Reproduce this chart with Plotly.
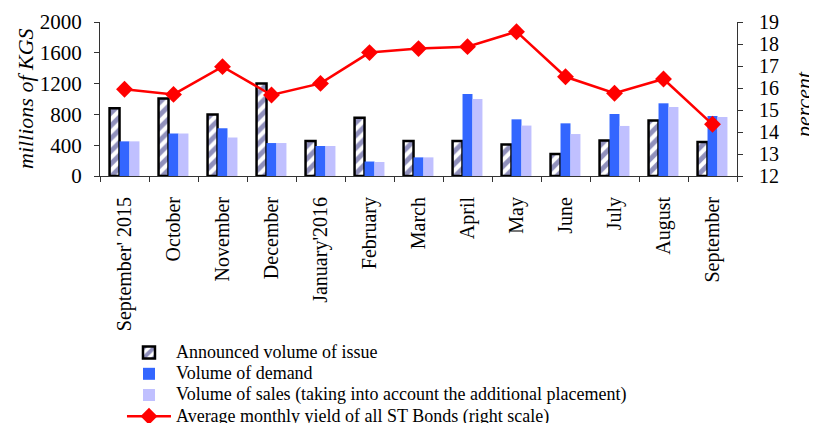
import plotly.graph_objects as go

months = ["September' 2015", "October", "November", "December", "January'2016",
          "February", "March", "April", "May", "June", "July", "August", "September"]
announced = [880, 1005, 800, 1200, 455, 755, 455, 455, 410, 285, 460, 720, 440]
demand = [450, 552, 620, 428, 390, 188, 242, 1065, 736, 684, 805, 944, 779]
sales = [450, 552, 500, 428, 390, 182, 242, 1000, 655, 545, 650, 896, 766]
yield_pct = [15.94, 15.71, 16.97, 15.68, 16.21, 17.61, 17.79, 17.88, 18.56, 16.51, 15.76, 16.41, 14.35]

names = ["Announced volume of issue", "Volume of demand",
         "Volume of sales (taking into account the additional placement)",
         "Average monthly yield of all ST Bonds (right scale)"]

FONT = "Liberation Serif, Times New Roman, serif"


def legend_name(s):
    return '<span style="font-size:18px">' + s + '</span>'


fig = go.Figure()
fig.add_trace(go.Bar(
    x=months, y=announced, name=legend_name(names[0]),
    marker=dict(color="white", line=dict(color="black", width=2.5),
                pattern=dict(shape="/", fgcolor="#22227A", bgcolor="white",
                             size=9, solidity=0.55)),
))
fig.add_trace(go.Bar(
    x=months, y=demand, name=legend_name(names[1]),
    marker=dict(color="#3366FF", line=dict(width=0)),
))
fig.add_trace(go.Bar(
    x=months, y=sales, name=legend_name(names[2]),
    marker=dict(color="#C0C0FF", line=dict(width=0)),
))
fig.add_trace(go.Scatter(
    x=months, y=yield_pct, yaxis="y2", mode="lines+markers",
    name=legend_name(names[3]),
    line=dict(color="#FF0000", width=2.5),
    marker=dict(symbol="diamond", size=13, color="#FF0000"),
))

fig.update_layout(
    width=817, height=423, autosize=False,
    margin=dict(l=92, r=88, t=14, b=255, pad=0, autoexpand=False),
    paper_bgcolor="white", plot_bgcolor="white",
    font=dict(family=FONT, color="black", size=18),
    barmode="group", bargap=0.39, bargroupgap=0,
    showlegend=True,
    legend=dict(x=0.0345, y=-1.0455, xanchor="left", yanchor="top",
                font=dict(family=FONT, size=14, color="black"),
                itemwidth=44, tracegroupgap=0, bgcolor="rgba(0,0,0,0)",
                borderwidth=0),
    xaxis=dict(type="category", range=[-0.5, len(months) - 0.5],
               showline=True, linecolor="#333", linewidth=1,
               ticks="outside", ticklen=5, tickcolor="#333", tickson="boundaries",
               tickangle=-90, tickfont=dict(family=FONT, size=20),
               showgrid=False, zeroline=False, ticklabelstandoff=12,
               automargin=False),
    yaxis=dict(range=[0, 2000], dtick=400, showline=True, linecolor="#333",
               linewidth=1, ticks="outside", ticklen=5, tickcolor="#333",
               tickfont=dict(family=FONT, size=21), showgrid=False,
               zeroline=False, ticklabelstandoff=8, automargin=False),
    yaxis2=dict(range=[12, 19], dtick=1, overlaying="y", side="right",
                showline=True, linecolor="#333", linewidth=1, ticks="outside",
                ticklen=5, tickcolor="#333", tickfont=dict(family=FONT, size=20),
                showgrid=False, zeroline=False, ticklabelstandoff=12,
                automargin=False),
    annotations=[
        dict(text="<i>millions of KGS</i>", xref="paper", yref="paper", x=0, y=0.5,
             xanchor="center", yanchor="middle",
             xshift=-75, textangle=-90, showarrow=False,
             font=dict(family=FONT, size=22)),
        dict(text="<i>percent</i>", xref="paper", yref="paper", x=1, y=0.5,
             xanchor="center", yanchor="middle",
             xshift=66, yshift=-6, textangle=-90, showarrow=False,
             font=dict(family=FONT, size=22)),
    ],
)

fig.write_html("out.html")
